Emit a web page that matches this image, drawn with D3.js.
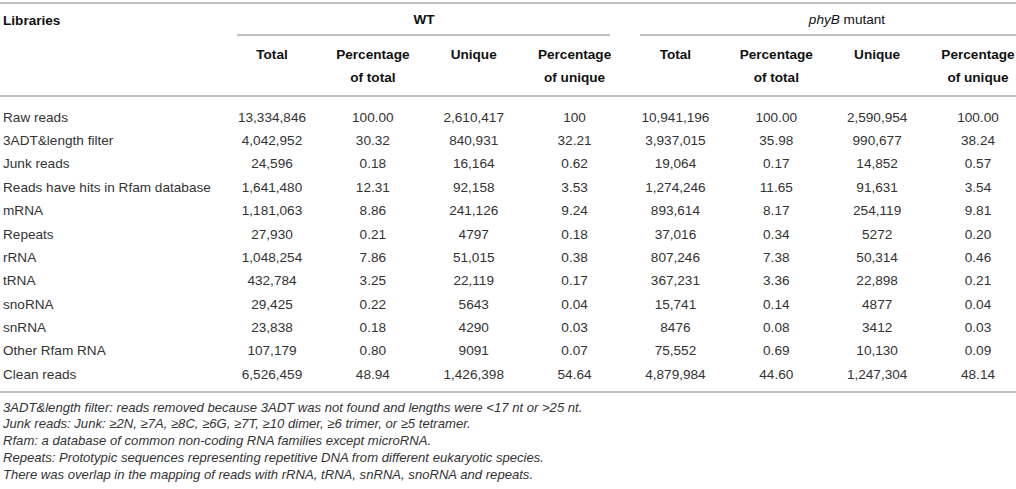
<!DOCTYPE html>
<html><head><meta charset="utf-8">
<script src="https://cdn.jsdelivr.net/npm/d3@7"></script>
<style>
body{margin:0;background:#fff;}
svg{display:block;}
text{font-family:"Liberation Sans",Arial,Helvetica,sans-serif;}
</style></head><body>
<script>
const groups = ["WT", "phyB mutant"];
const columnHeaders = [["Total"],["Percentage","of total"],["Unique"],["Percentage","of unique"],
                       ["Total"],["Percentage","of total"],["Unique"],["Percentage","of unique"]];
const rowLabels = ["Raw reads","3ADT&length filter","Junk reads","Reads have hits in Rfam database","mRNA","Repeats","rRNA","tRNA","snoRNA","snRNA","Other Rfam RNA","Clean reads"];
const wtTotal   = ["13,334,846","4,042,952","24,596","1,641,480","1,181,063","27,930","1,048,254","432,784","29,425","23,838","107,179","6,526,459"];
const wtPctTotal= ["100.00","30.32","0.18","12.31","8.86","0.21","7.86","3.25","0.22","0.18","0.80","48.94"];
const wtUnique  = ["2,610,417","840,931","16,164","92,158","241,126","4797","51,015","22,119","5643","4290","9091","1,426,398"];
const wtPctUnique=["100","32.21","0.62","3.53","9.24","0.18","0.38","0.17","0.04","0.03","0.07","54.64"];
const mTotal    = ["10,941,196","3,937,015","19,064","1,274,246","893,614","37,016","807,246","367,231","15,741","8476","75,552","4,879,984"];
const mPctTotal = ["100.00","35.98","0.17","11.65","8.17","0.34","7.38","3.36","0.14","0.08","0.69","44.60"];
const mUnique   = ["2,590,954","990,677","14,852","91,631","254,119","5272","50,314","22,898","4877","3412","10,130","1,247,304"];
const mPctUnique= ["100.00","38.24","0.57","3.54","9.81","0.20","0.46","0.21","0.04","0.03","0.09","48.14"];
const footnotes = [
 "3ADT&length filter: reads removed because 3ADT was not found and lengths were <17 nt or >25 nt.",
 "Junk reads: Junk: \u22652N, \u22657A, \u22658C, \u22656G, \u22657T, \u226510 dimer, \u22656 trimer, or \u22655 tetramer.",
 "Rfam: a database of common non-coding RNA families except microRNA.",
 "Repeats: Prototypic sequences representing repetitive DNA from different eukaryotic species.",
 "There was overlap in the mapping of reads with rRNA, tRNA, snRNA, snoRNA and repeats."
];

const columns = [wtTotal, wtPctTotal, wtUnique, wtPctUnique, mTotal, mPctTotal, mUnique, mPctUnique];
const W = 1016, H = 489;
const svg = d3.select("body").append("svg").attr("width", W).attr("height", H);

const x = d3.scalePoint().domain(d3.range(columns.length)).range([272, 978]);
const y = d3.scalePoint().domain(rowLabels).range([117, 374]);
const fy = d3.scalePoint().domain(d3.range(footnotes.length)).range([407, 474]);

const lineColor = "#ababab";
const hline = (x1, x2, yy) => svg.append("line").attr("x1", x1).attr("x2", x2)
  .attr("y1", yy).attr("y2", yy).attr("stroke", lineColor).attr("stroke-width", 1.5);

hline(0, W, 3);
hline(237, 610, 35);
hline(640, W, 35);
hline(0, W, 96);
hline(0, W, 392);

const fs = 13.6;
const bodyColor = "#333";
// Header
svg.append("text").attr("x", 3).attr("y", 20).attr("dy", "0.35em")
  .attr("font-size", fs).attr("font-weight", "bold").attr("fill", "#111").text("Libraries");
svg.append("text").attr("x", 424).attr("y", 19).attr("dy", "0.35em").attr("text-anchor", "middle")
  .attr("font-size", fs).attr("font-weight", "bold").attr("fill", "#111").text(groups[0]);
const g2 = svg.append("text").attr("x", 847).attr("y", 19).attr("dy", "0.35em").attr("text-anchor", "middle")
  .attr("font-size", fs).attr("fill", "#111");
g2.append("tspan").attr("font-style", "italic").text("phyB");
g2.append("tspan").text(" mutant");

columnHeaders.forEach((lines, i) => {
  lines.forEach((t, j) => {
    svg.append("text").attr("x", x(i)).attr("y", 54 + j * 23).attr("dy", "0.35em")
      .attr("text-anchor", "middle").attr("font-size", fs).attr("font-weight", "bold")
      .attr("fill", "#111").text(t);
  });
});

// Body
svg.selectAll("text.rl").data(rowLabels).join("text").attr("class", "rl")
  .attr("x", 3).attr("y", d => y(d)).attr("dy", "0.35em")
  .attr("font-size", fs).attr("fill", bodyColor).text(d => d);

columns.forEach((col, i) => {
  svg.selectAll("text.c" + i).data(col).join("text").attr("class", "c" + i)
    .attr("x", x(i)).attr("y", (d, k) => y(rowLabels[k])).attr("dy", "0.35em")
    .attr("text-anchor", "middle").attr("font-size", fs).attr("fill", bodyColor).text(d => d);
});

svg.selectAll("text.fn").data(footnotes).join("text").attr("class", "fn")
  .attr("x", 3).attr("y", (d, i) => fy(i)).attr("dy", "0.35em")
  .attr("font-size", 13.1).attr("font-style", "italic").attr("fill", bodyColor).text(d => d);
</script>
</body></html>
